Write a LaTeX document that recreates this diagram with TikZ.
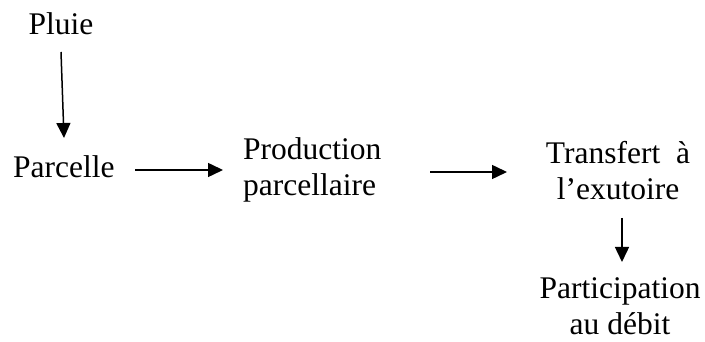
\documentclass[tikz,border=0pt]{standalone}
\usepackage{fontspec}
\setmainfont{Liberation Serif}
\usetikzlibrary{arrows.meta}
\begin{document}
\begin{tikzpicture}[x=1pt,y=1pt,
  lbl/.style={inner sep=0pt,font=\fontsize{31.5}{36.5}\selectfont},
  conn/.style={line width=1.5pt,-{Triangle[length=15pt,width=14pt]}}]
\useasboundingbox (0,0) rectangle (705,342);
\node[lbl,anchor=base] (pluie) at (61,307) {Pluie};
\node[lbl,anchor=base west] (parcelle) at (13,164) {Parcelle};
\node[lbl,anchor=base west,align=left] (prod) at (243,146) {Production\\parcellaire};
\node[lbl,anchor=base,align=center] (transf) at (618,142) {Transfert\ \ à\\l’exutoire};
\node[lbl,anchor=base,align=center] (partic) at (620,7) {Participation\\au débit};
\coordinate (a1s) at (61,290); \coordinate (a1e) at (64,204);
\coordinate (a2s) at (135,172); \coordinate (a2e) at (223,172);
\coordinate (a3s) at (430,170); \coordinate (a3e) at (507,170);
\coordinate (a4s) at (622,124); \coordinate (a4e) at (622,80);
\draw[conn] (a1s) -- (a1e);
\draw[conn] (a2s) -- (a2e);
\draw[conn] (a3s) -- (a3e);
\draw[conn] (a4s) -- (a4e);
\end{tikzpicture}
\end{document}
